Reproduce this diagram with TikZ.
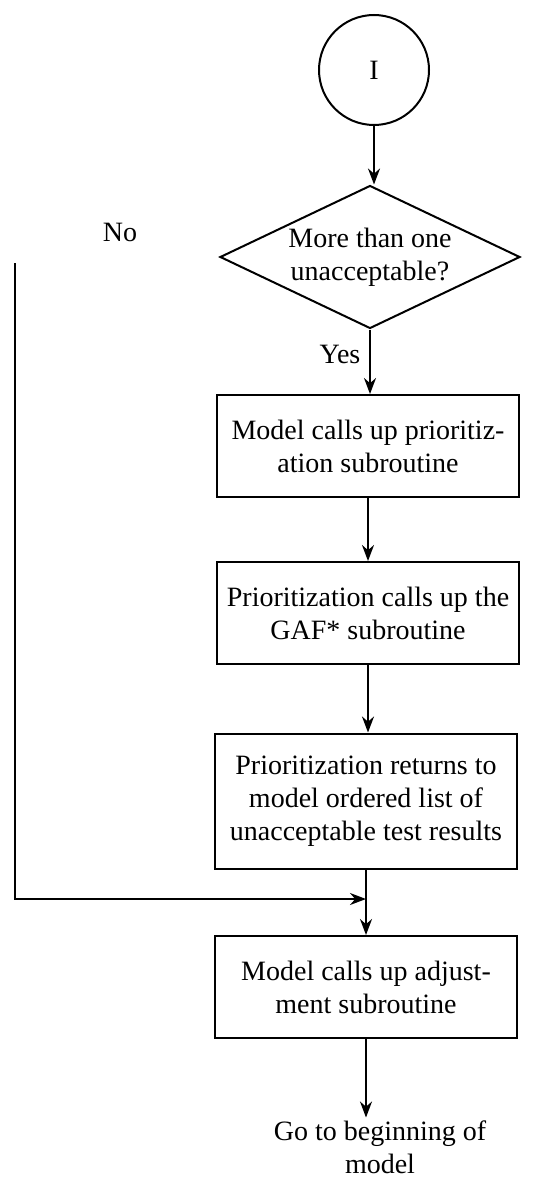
\documentclass[tikz,border=0pt]{standalone}
\usepackage{fontspec}
\setmainfont{Liberation Serif}
\usetikzlibrary{shapes.geometric, arrows.meta, positioning}

\begin{document}
\begin{tikzpicture}[x=0.5pt, y=-0.5pt, line width=1pt,
    every node/.style={font=\fontsize{14}{16.5}\selectfont, align=center},
    conn/.style={circle, draw, minimum size=55pt, inner sep=0pt},
    decision/.style={diamond, draw, aspect=2.1, minimum width=150pt, minimum height=71.5pt, inner sep=0pt},
    procbox/.style={rectangle, draw, minimum width=151pt, minimum height=51pt, inner sep=2pt},
    flow/.style={-{Stealth[length=8pt, width=6pt]}}]
    \useasboundingbox (0,0) rectangle (554,1177);

    % Nodes
    \node[conn] (start) at (374, 70) {I};
    \node[decision] (more) at (370, 257) {More than one\\unacceptable?};
    \node[procbox] (callprio) at (368, 446) {Model calls up prioritiz-\\ation subroutine};
    \node[procbox] (callgaf) at (368, 613) {Prioritization calls up the\\GAF* subroutine};
    \node[procbox, minimum height=67.5pt] (ordered) at (366, 801) {Prioritization returns to\\model ordered list of\\unacceptable test results};
    \node[procbox] (adjust) at (366, 987) {Model calls up adjust-\\ment subroutine};
    \node[inner sep=1pt] (goto) at (380, 1147) {Go to beginning of\\model};
    \node (no) at (120, 232) {No};
    \node (yes) at (340, 354) {Yes};

    \coordinate (nofrom) at (15, 263);
    \coordinate (noturn) at (15, 899);

    % Edges
    \draw[flow] (start.south) -- (start.south |- more.north);
    \draw[flow] (more.south) -- (more.south |- callprio.north);
    \draw[flow] (callprio.south) -- (callprio.south |- callgaf.north);
    \draw[flow] (callgaf.south) -- (callgaf.south |- ordered.north);
    \draw[flow] (ordered.south) -- (ordered.south |- adjust.north);
    \draw[flow] (adjust.south) -- (adjust.south |- goto.north);
    \draw[flow] (nofrom) -- (noturn) -- (ordered.south |- noturn);
\end{tikzpicture}
\end{document}
